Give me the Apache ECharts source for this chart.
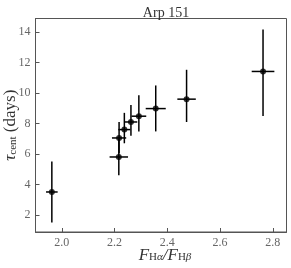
<!DOCTYPE html>
<html><head><meta charset="utf-8">
<script src="https://cdn.jsdelivr.net/npm/echarts@6/dist/echarts.min.js"></script>
<style>html,body{margin:0;padding:0;background:#fff}#c{width:291px;height:268px}</style>
</head><body><div id="c"></div>
<script>
const xs = [1.962, 2.216, 2.217, 2.237, 2.262, 2.292, 2.356, 2.473, 2.763];
const ys = [3.5, 5.8, 7.05, 7.6, 8.1, 8.48, 8.98, 9.6, 11.42];
const xerr = [0.022, 0.035, 0.027, 0.023, 0.024, 0.028, 0.038, 0.035, 0.043];
const yerrLo = [2.0, 1.2, 1.0, 0.9, 0.9, 1.0, 1.5, 1.5, 2.92];
const yerrHi = [2.0, 1.2, 1.05, 1.1, 1.12, 1.37, 1.52, 1.93, 2.75];
const xTicks = [2.0, 2.2, 2.4, 2.6, 2.8];
const yTicks = [2, 4, 6, 8, 10, 12, 14];
const titleText = 'Arp 151';

const font = 'Liberation Serif';
const pts = xs.map((x, i) => [x, ys[i]]);
const errData = xs.map((x, i) => [x, ys[i], xerr[i], yerrLo[i], yerrHi[i]]);

const richStyles = {
  i: {fontFamily: font, fontStyle: 'italic', fontSize: 17, color: '#333', verticalAlign: 'middle', lineHeight: 15},
  s: {fontFamily: font, fontSize: 11, color: '#333', verticalAlign: 'bottom', lineHeight: 15},
  g: {fontFamily: font, fontStyle: 'italic', fontSize: 11, color: '#333', verticalAlign: 'bottom', lineHeight: 15},
  n: {fontFamily: font, fontSize: 17, color: '#333', verticalAlign: 'middle', lineHeight: 15}
};

const chart = echarts.init(document.getElementById('c'), null, {renderer: 'canvas'});
chart.setOption({
  animation: false,
  title: {text: titleText, left: 161, textAlign: 'center', top: 1,
    textStyle: {fontFamily: font, fontWeight: 'normal', fontSize: 14, color: '#333'}},
  grid: {left: 35.5, right: 4.5, top: 18.5, bottom: 36, show: true, borderColor: '#555', borderWidth: 1,
    containLabel: false, outerBoundsMode: 'none'},
  xAxis: {
    type: 'value', min: 1.9, max: 2.852,
    splitLine: {show: false},
    axisLine: {show: true, lineStyle: {color: '#555'}},
    axisTick: {show: true, inside: true, length: 4, customValues: xTicks, lineStyle: {color: '#555'}},
    axisLabel: {customValues: xTicks, formatter: v => v.toFixed(1), fontFamily: font, fontSize: 12, color: '#666', margin: 5},
    name: '{i|F}{s|H}{g|α}{i|/F}{s|H}{g|β}', nameLocation: 'middle', nameGap: 16, nameMoveOverlap: false,
    nameTextStyle: {fontFamily: font, color: '#333', padding: [0, 0, 0, 8], rich: richStyles}
  },
  yAxis: {
    type: 'value', min: 0.87, max: 14.9,
    splitLine: {show: false},
    axisLine: {show: true, lineStyle: {color: '#555'}},
    axisTick: {show: true, inside: true, length: 4, customValues: yTicks, lineStyle: {color: '#555'}},
    axisLabel: {customValues: yTicks, fontFamily: font, fontSize: 12, color: '#666', margin: 5},
    name: '{i|τ}{s|cent}{n| (days)}', nameLocation: 'middle', nameGap: 17, nameRotate: 90, nameMoveOverlap: false,
    nameTextStyle: {fontFamily: font, color: '#333', rich: richStyles}
  },
  series: [
    {
      type: 'custom',
      data: errData,
      renderItem: function (params, api) {
        const x = api.value(0), y = api.value(1), dx = api.value(2), lo = api.value(3), hi = api.value(4);
        const l = api.coord([x - dx, y]), r = api.coord([x + dx, y]);
        const t = api.coord([x, y + hi]), b = api.coord([x, y - lo]);
        const style = {stroke: '#000', lineWidth: 1.5};
        return {type: 'group', children: [
          {type: 'line', shape: {x1: l[0], y1: l[1], x2: r[0], y2: r[1]}, style: style},
          {type: 'line', shape: {x1: t[0], y1: t[1], x2: b[0], y2: b[1]}, style: style}
        ]};
      },
      z: 2
    },
    {
      type: 'scatter', data: pts, symbol: 'circle', symbolSize: 6,
      itemStyle: {color: '#000'}, z: 3
    }
  ]
});
</script></body></html>
